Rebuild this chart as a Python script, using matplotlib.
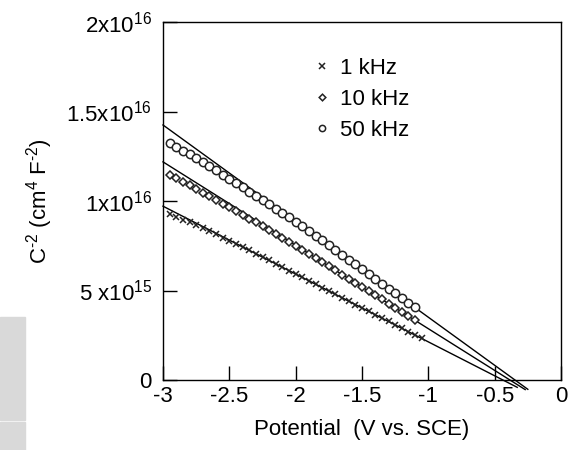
import matplotlib
matplotlib.use('Agg')
import matplotlib.pyplot as plt
from matplotlib.patches import Rectangle
import numpy as np

plt.rcParams['font.family'] = ['Liberation Sans', 'DejaVu Sans']
plt.rcParams['mathtext.fontset'] = 'custom'
plt.rcParams['mathtext.rm'] = 'Liberation Sans'
plt.rcParams['mathtext.it'] = 'Liberation Sans'
plt.rcParams['mathtext.default'] = 'regular'

# potentials (V vs. SCE)
v_1k = [-2.95, -2.90, -2.85, -2.80, -2.75, -2.70, -2.65, -2.60, -2.55, -2.50,
        -2.45, -2.40, -2.35, -2.30, -2.25, -2.20, -2.15, -2.10, -2.05, -2.00,
        -1.95, -1.90, -1.85, -1.80, -1.75, -1.70, -1.65, -1.60, -1.55, -1.50,
        -1.45, -1.40, -1.35, -1.30, -1.25, -1.20, -1.15, -1.10, -1.05]
v_hi = [-2.95, -2.90, -2.85, -2.80, -2.75, -2.70, -2.65, -2.60, -2.55, -2.50,
        -2.45, -2.40, -2.35, -2.30, -2.25, -2.20, -2.15, -2.10, -2.05, -2.00,
        -1.95, -1.90, -1.85, -1.80, -1.75, -1.70, -1.65, -1.60, -1.55, -1.50,
        -1.45, -1.40, -1.35, -1.30, -1.25, -1.20, -1.15, -1.10]

# C^-2 in units of 1e15 cm^4 F^-2
c_1k = [9.27, 9.12, 8.96, 8.80, 8.64, 8.47, 8.30, 8.13, 7.96, 7.79,
        7.61, 7.43, 7.25, 7.05, 6.87, 6.68, 6.49, 6.30, 6.11, 5.92,
        5.73, 5.54, 5.35, 5.16, 4.97, 4.78, 4.59, 4.40, 4.21, 4.02,
        3.83, 3.64, 3.45, 3.27, 3.08, 2.89, 2.70, 2.51, 2.32]
c_10k = [11.45, 11.26, 11.07, 10.87, 10.67, 10.47, 10.27, 10.06, 9.86, 9.66,
         9.44, 9.23, 9.02, 8.80, 8.59, 8.38, 8.17, 7.95, 7.73, 7.51,
         7.28, 7.06, 6.83, 6.60, 6.36, 6.13, 5.89, 5.66, 5.43, 5.19,
         4.96, 4.73, 4.50, 4.26, 4.03, 3.80, 3.57, 3.33]
c_50k = [13.23, 13.03, 12.82, 12.60, 12.38, 12.17, 11.94, 11.71, 11.48, 11.24,
         11.00, 10.76, 10.53, 10.29, 10.05, 9.81, 9.57, 9.33, 9.09, 8.84,
         8.59, 8.33, 8.07, 7.80, 7.54, 7.27, 7.00, 6.73, 6.46, 6.19,
         5.92, 5.65, 5.38, 5.11, 4.84, 4.58, 4.31, 4.06]

# Mott-Schottky fits: slope (1e15 per V), flat-band potential, end of drawn line
fit_slope = [-3.79, -4.66, -5.37]
fit_vfb = [-0.438, -0.385, -0.347]
fit_end = [-0.33, -0.27, -0.25]

labels = ['1 kHz', '10 kHz', '50 kHz']
markers = ['x', 'D', 'o']
msizes = [5, 4.5, 6]

FS = 16

fig = plt.figure(figsize=(5.69, 4.5), dpi=100)
ax = fig.add_axes([163 / 569, 1 - 380 / 450, 398 / 569, 358 / 450])

series = [(v_1k, c_1k), (v_hi, c_10k), (v_hi, c_50k)]
handles = []
for (v, c), m, ms, lab in zip(series, markers, msizes, labels):
    h, = ax.plot(np.array(v), np.array(c) * 1e15, linestyle='none', marker=m,
                 ms=ms, mfc='white' if m != 'x' else 'black', mec='#222222',
                 mew=1.1, label=lab, zorder=3)
    handles.append(h)

for s, vfb, xe in zip(fit_slope, fit_vfb, fit_end):
    xs = np.array([-3.0, xe])
    ax.plot(xs, s * (xs - vfb) * 1e15, color='black', lw=1.0,
            clip_on=False, zorder=2)

ax.set_xlim(-3, 0)
ax.set_ylim(0, 2e16)
ax.set_xticks([-3, -2.5, -2, -1.5, -1, -0.5, 0])
ax.set_xticklabels(['-3', '-2.5', '-2', '-1.5', '-1', '-0.5', '0'])
ax.set_yticks([0, 5e15, 1e16, 1.5e16, 2e16])
ax.set_yticklabels(['0', r'5 x10$^{15}$', r'1x10$^{16}$', r'1.5x10$^{16}$',
                    r'2x10$^{16}$'])
ax.tick_params(direction='in', length=10, width=1, labelsize=FS,
               top=False, right=False)
ax.tick_params(axis='x', pad=4)
ax.tick_params(axis='y', pad=8)
for sp in ax.spines.values():
    sp.set_linewidth(1.0)

ax.set_xlabel('Potential  (V vs. SCE)', fontsize=FS, labelpad=9)
ax.set_ylabel('C$^{\u20102}$ (cm$^{4}$ F$^{\u20102}$)', fontsize=FS,
              labelpad=8)

ax.legend(handles=handles, loc='upper left', frameon=False, fontsize=FS,
          bbox_to_anchor=(313 / 569, 1 - 58 / 450),
          bbox_transform=fig.transFigure, handlelength=0.8,
          handletextpad=0.41, borderpad=0, borderaxespad=0,
          labelspacing=0.45, markerscale=0.75)

# grey strip at the left edge of the source image
fig.patches.append(Rectangle((0, 1 - 420 / 450), 25 / 569, 103 / 450,
                             transform=fig.transFigure, color='#d9d9d9',
                             zorder=0))
fig.patches.append(Rectangle((0, 0), 25 / 569, 28 / 450,
                             transform=fig.transFigure, color='#d9d9d9',
                             zorder=0))

fig.savefig('out.png', dpi=100)
